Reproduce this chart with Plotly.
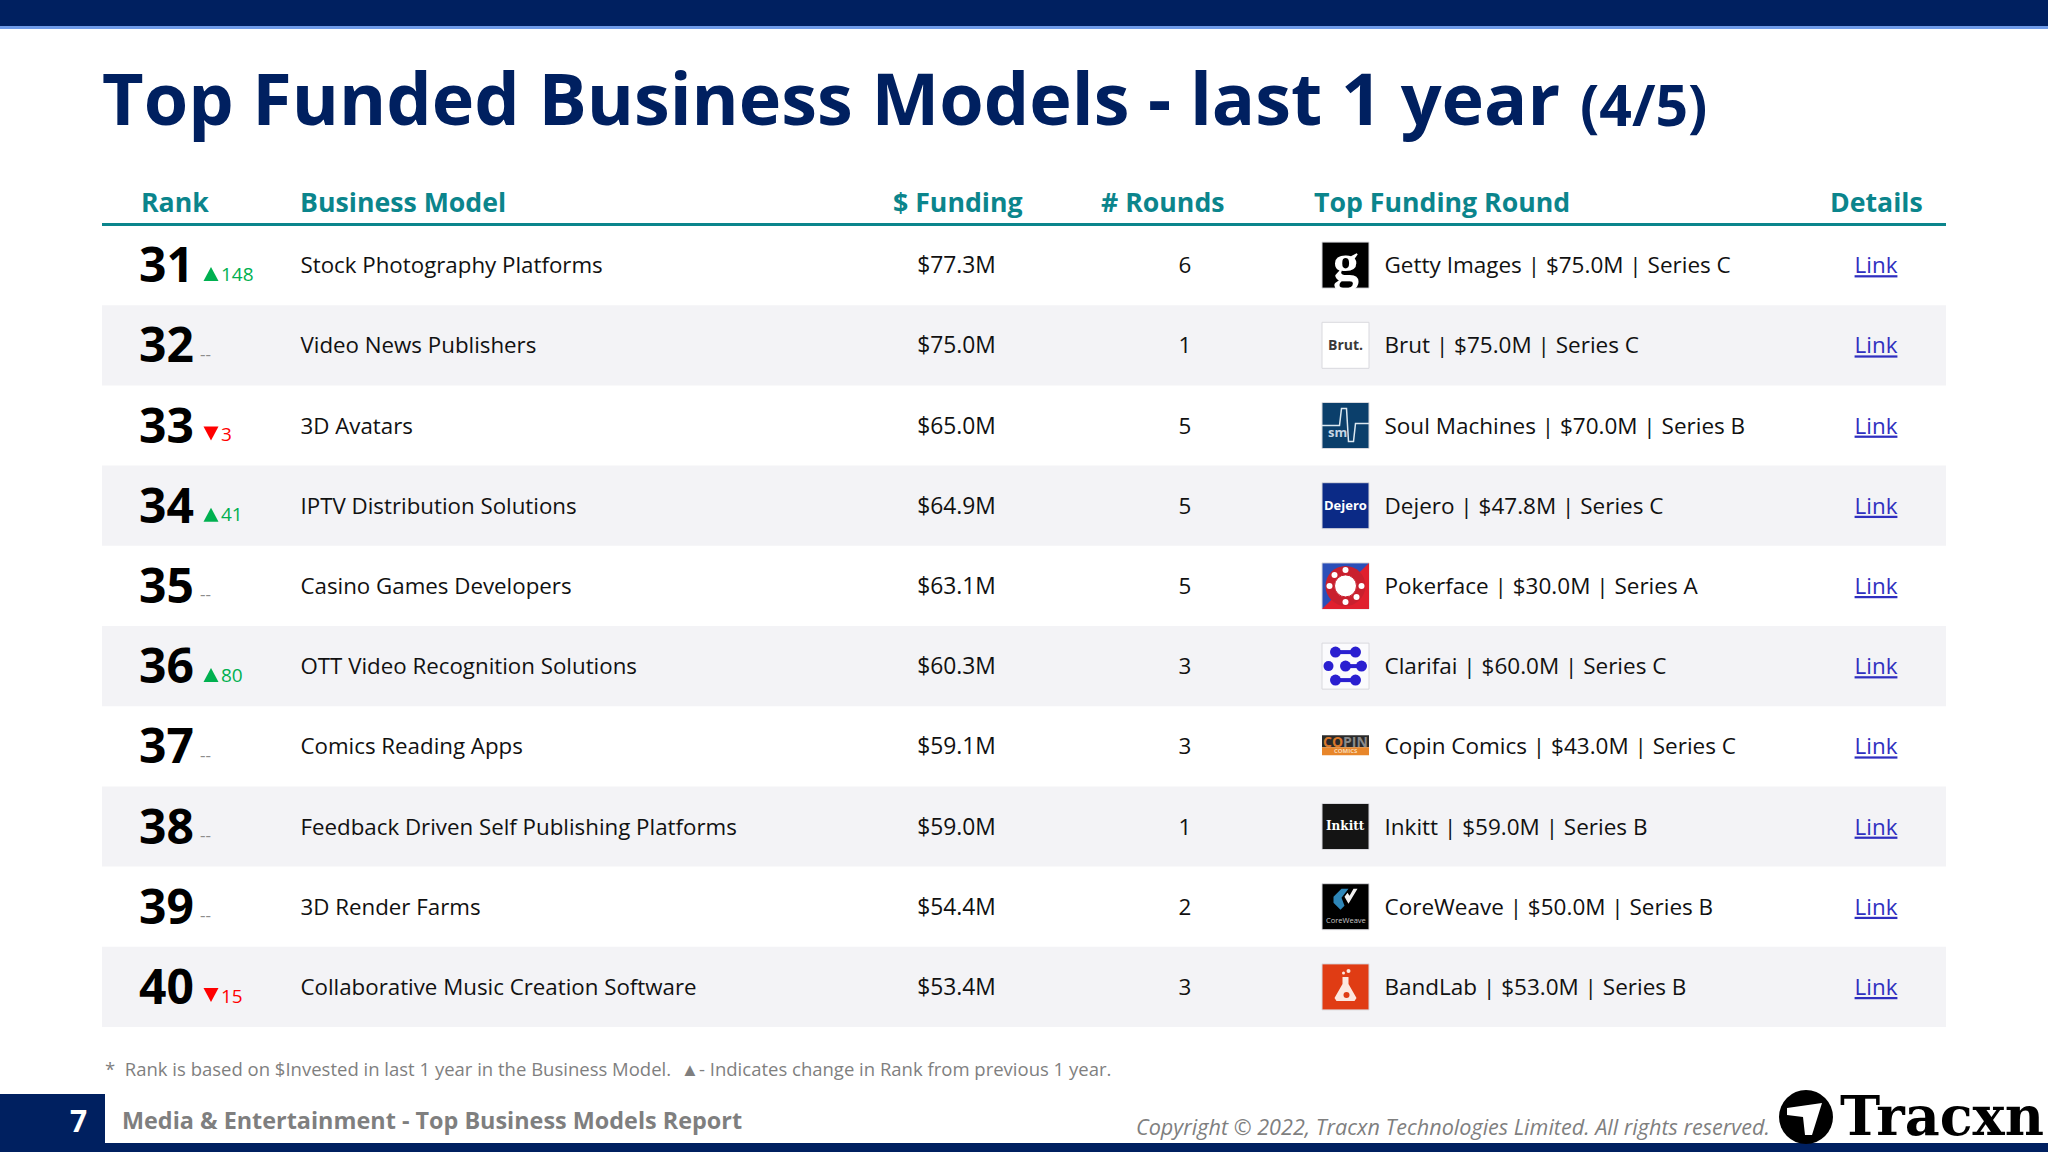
import plotly.graph_objects as go

ranks = [31, 32, 33, 34, 35, 36, 37, 38, 39, 40]
rank_change = [148, None, -3, 41, None, 80, None, None, None, -15]
business_models = ["Stock Photography Platforms", "Video News Publishers", "3D Avatars",
                   "IPTV Distribution Solutions", "Casino Games Developers",
                   "OTT Video Recognition Solutions", "Comics Reading Apps",
                   "Feedback Driven Self Publishing Platforms", "3D Render Farms",
                   "Collaborative Music Creation Software"]
funding_musd = [77.3, 75.0, 65.0, 64.9, 63.1, 60.3, 59.1, 59.0, 54.4, 53.4]
rounds = [6, 1, 5, 5, 5, 3, 3, 1, 2, 3]
top_company = ["Getty Images", "Brut", "Soul Machines", "Dejero", "Pokerface",
               "Clarifai", "Copin Comics", "Inkitt", "CoreWeave", "BandLab"]
top_amount = [75.0, 75.0, 70.0, 47.8, 30.0, 60.0, 43.0, 59.0, 50.0, 53.0]
top_series = ["C", "C", "B", "C", "A", "C", "C", "B", "B", "B"]

NAVY, TEAL, GREEN, RED, LINK = "#002060", "#0B858C", "#00B050", "#FF0000", "#2F2FBF"
FONT = "Open Sans"
ROW0, ROWH = 225.0, 80.2
rows = [ROW0 + ROWH * (i + .5) for i in range(len(ranks))]

shapes, annos = [], []
def rect(x0, y0, x1, y1, fill, line=None, lw=1):
    shapes.append(dict(type="rect", x0=x0, y0=y0, x1=x1, y1=y1, fillcolor=fill, layer="below",
                       line=dict(color=line, width=lw) if line else dict(width=0)))
def circ(cx, cy, r, fill, line=None, lw=1):
    shapes.append(dict(type="circle", x0=cx-r, y0=cy-r, x1=cx+r, y1=cy+r, fillcolor=fill, layer="below",
                       line=dict(color=line, width=lw) if line else dict(width=0)))
def poly(pts, fill=None, line=None, lw=1, close=True):
    p = "M" + " L".join(f"{a:.1f},{b:.1f}" for a, b in pts) + (" Z" if close else "")
    shapes.append(dict(type="path", path=p, fillcolor=fill if fill else "rgba(0,0,0,0)", layer="below",
                       line=dict(color=line, width=lw) if line else dict(width=0)))
def txt(x, y, s, size, color, anchor="left", weight=400, family=FONT, style="normal"):
    annos.append(dict(x=x, y=y, text=s, xanchor=anchor, yanchor="middle", showarrow=False,
                      font=dict(size=size, color=color, family=family, weight=weight, style=style)))

# page furniture
rect(0, 0, 2048, 26, NAVY)
rect(0, 26, 2048, 29, "#6F9BE8")
rect(0, 1143, 2048, 1152, NAVY)
rect(0, 1094, 105, 1152, NAVY)
txt(100, 97, "Top Funded Business Models - last 1 year", 71.9, NAVY, weight=700)
txt(1578, 104, "(4/5)", 57, NAVY, weight=700)
for x, s, a in [(139, "Rank", "left"), (298, "Business Model", "left"), (958, "$ Funding", "center"),
                (1163, "# Rounds", "center"), (1312, "Top Funding Round", "left"), (1876, "Details", "center")]:
    txt(x, 201, s, 26.7, TEAL, a, 700)
rect(102, 223, 1946, 226, TEAL)
for i, c in enumerate(rows):
    if i % 2:
        rect(102, c - ROWH/2, 1946, c + ROWH/2, "#F3F3F6")
txt(103, 1068, "*  Rank is based on $Invested in last 1 year in the Business Model.  ▲- Indicates change in Rank from previous 1 year.",
    18.5, "#7F7F7F")
txt(78, 1120, "7", 30, "white", "center", 700)
txt(120, 1120, "Media & Entertainment - Top Business Models Report", 23.4, "#7F7F7F", weight=700)
txt(1772, 1126, "Copyright © 2022, Tracxn Technologies Limited. All rights reserved.", 21.6, "#7F7F7F", "right", style="italic")
circ(1806, 1117, 27, "#000000")
poly([(1787, 1108), (1822, 1103), (1812, 1135), (1805, 1135), (1803, 1117), (1787, 1115)], "white")
txt(1838, 1116, "Tracxn", 54, "#000000", weight=700, family="DejaVu Serif")

# company marks, one per row
L, R = 1322, 1369
def box(c, fill, line="#D9D9DE"):
    rect(L, c-23, R, c+23, fill, line)
CX = (L + R) / 2
box(rows[0], "#000000"); txt(CX, rows[0]-3, "g", 52, "white", "center", 700, "Liberation Serif")
box(rows[1], "white"); txt(CX, rows[1]-1, "Brut.", 14, "#3A3A3A", "center", 700)
c = rows[2]; box(c, "#0B3F6B")
poly([(L, c), (CX-6, c), (CX-4, c-17), (CX+1, c-17), (CX+3, c+16), (CX+8, c+16), (CX+10, c-2), (R, c-2)], None, "#DCE8F0", 1.5, False)
txt(CX-8, c+6, "sm", 13, "#C5D6E4", "center", 700)
box(rows[3], "#0B2A86"); txt(CX, rows[3]-1, "Dejero", 13, "white", "center", 700)
c = rows[4]; box(c, "#2B4FB8")
poly([(R, c-23), (R, c+23), (L, c+23)], "#E0202E")
circ(CX, c, 20, "#C9202E")
circ(CX, c, 11, "white", "#C9202E", 1)
for dx, dy in [(0, -16), (16, 0), (0, 16), (-16, 0), (-11, -11), (11, 11)]:
    circ(CX+dx, c+dy, 3, "white")
c = rows[5]; box(c, "#FBFBFD")
BL = "#2A1FD0"
for y0, xa, xb in [(-14, -10, 10), (0, 0, 16), (14, -10, 10)]:
    circ(CX+xa, c+y0, 5.5, BL); circ(CX+xb, c+y0, 5.5, BL)
    poly([(CX+xa, c+y0), (CX+xb, c+y0)], None, BL, 4, False)
circ(CX-17, c, 5, BL)
c = rows[6]
rect(L, c-11, R, c+1, "#2A2A2A"); rect(L, c+1, R, c+9, "#E8862A")
txt(CX, c-5, "<span style='color:#D9772A'>CO</span><span style='color:#8A8A8A'>PIN</span>", 14, "#D9772A", "center", 700)
txt(CX, c+5, "COMICS", 6, "#F7D9B5", "center", 700)
box(rows[7], "#141414"); txt(CX, rows[7]-1, "Inkitt", 12, "white", "center", 700, "DejaVu Serif")
c = rows[8]; box(c, "#000000")
poly([(CX-12, c-10), (CX-4, c-18), (CX+3, c-18), (CX-4, c-9), (CX-1, c-1), (CX-5, c+3), (CX-12, c-4)], "#2E86B8")
poly([(CX+3, c-3), (CX+12, c-18), (CX+8, c-18), (CX+4, c-11), (CX+2, c-14), (CX-1, c-10)], "#F0F0F0")
txt(CX, c+13, "CoreWeave", 7.5, "#C8C8C8", "center")
c = rows[9]; box(c, "#E03C14")
poly([(CX-3, c-10), (CX+3, c-10), (CX+3, c-3), (CX+11, c+11), (CX+9, c+14), (CX-9, c+14), (CX-11, c+11), (CX-3, c-3)], "#FBE8E0")
circ(CX+1, c+8, 3, "#E03C14")
circ(CX+3, c-16, 2, "#FBE8E0"); circ(CX-2, c-14, 1.5, "#FBE8E0")

# rank change triangles follow the row of each change
for i, v in enumerate(rank_change):
    if v is None:
        continue
    c = rows[i]
    if v > 0:
        poly([(203.5, c+16), (218.5, c+16), (211, c+2)], GREEN)
    else:
        poly([(203.5, c+1), (218.5, c+1), (211, c+15)], RED)

fig = go.Figure()
def column(x, text, size, color, pos, weight=400, dy=2.5, **font):
    fig.add_trace(go.Scatter(x=[x]*len(text), y=[r + dy for r in rows], mode="text", text=text,
                             textposition=pos, hoverinfo="skip", showlegend=False, cliponaxis=False,
                             textfont=dict(family=FONT, size=size, color=color, weight=weight, **font)))

column(139, [str(r) for r in ranks], 48, "#000000", "middle right", 700, dy=5)
column(300.5, business_models, 22.3, "#111111", "middle right")
column(956.5, [f"${v:.1f}M" for v in funding_musd], 22.8, "#111111", "middle center")
column(1185, [str(v) for v in rounds], 22.4, "#111111", "middle center")
column(1384.5, [f"{a} | ${b:.1f}M | Series {s}" for a, b, s in zip(top_company, top_amount, top_series)],
       22.5, "#111111", "middle right")
column(1876, ["Link"] * len(ranks), 22.4, LINK, "middle center", lineposition="under")

# rank change labels
for idx, col in [([i for i, v in enumerate(rank_change) if v and v > 0], GREEN),
                 ([i for i, v in enumerate(rank_change) if v and v < 0], RED)]:
    fig.add_trace(go.Scatter(x=[221]*len(idx), y=[rows[i]+11 for i in idx], mode="text", hoverinfo="skip", showlegend=False,
                             text=[str(abs(rank_change[i])) for i in idx], textposition="middle right",
                             textfont=dict(family=FONT, size=19, color=col)))
same = [i for i, v in enumerate(rank_change) if v is None]
fig.add_trace(go.Scatter(x=[200]*len(same), y=[rows[i]+10 for i in same], mode="text", hoverinfo="skip", showlegend=False,
                         text=["--"]*len(same), textposition="middle right",
                         textfont=dict(family=FONT, size=17, color="#8C8C8C")))

fig.update_layout(width=2048, height=1152, margin=dict(l=0, r=0, t=0, b=0), plot_bgcolor="white", paper_bgcolor="white",
                  xaxis=dict(range=[0, 2048], visible=False, fixedrange=True),
                  yaxis=dict(range=[1152, 0], visible=False, fixedrange=True),
                  shapes=shapes, annotations=annos, showlegend=False)
fig.write_html("out.html", config=dict(displayModeBar=False), post_script="document.body.style.margin='0';")
